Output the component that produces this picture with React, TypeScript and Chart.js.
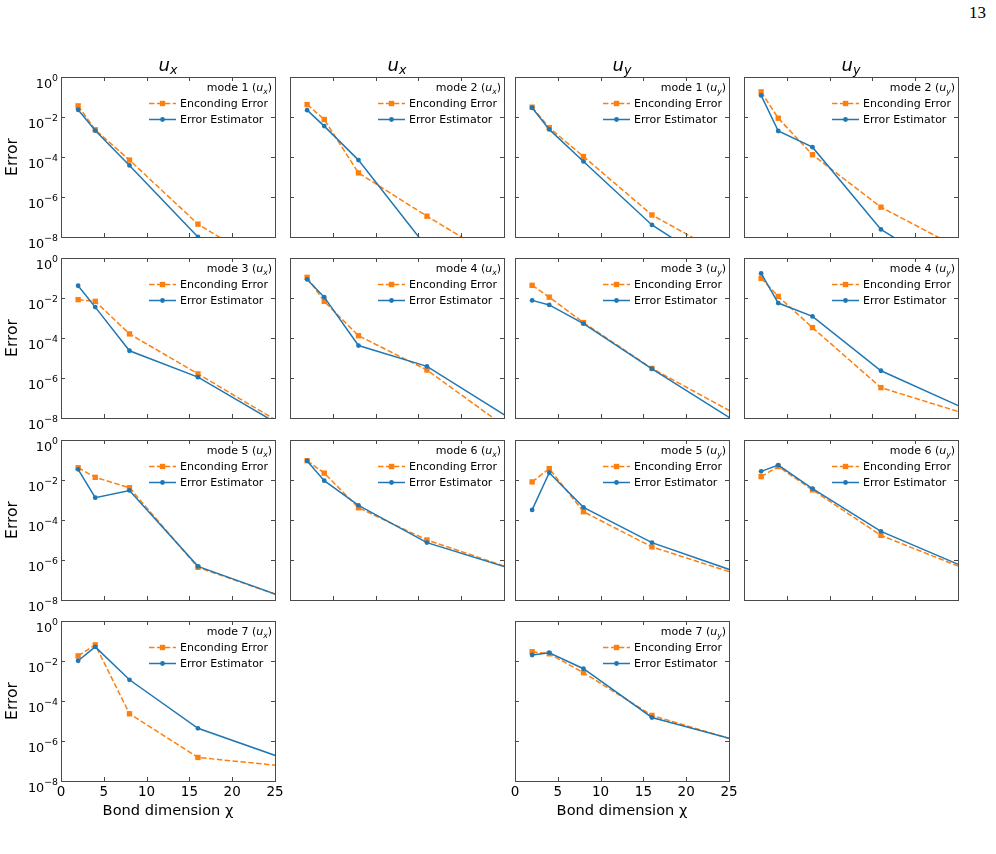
import React, { useEffect, useRef } from 'react';
import { Chart, registerables } from 'chart.js';

Chart.register(...registerables);
Chart.defaults.font.family = "'DejaVu Sans', sans-serif";
Chart.defaults.color = '#000';

// Bond dimensions used in the sweep and axis ticks
const bondDimensions = [2, 4, 8, 16, 32];
const xTickValues = [0, 5, 10, 15, 20, 25];
const yTickValues = [1, 1e-2, 1e-4, 1e-6, 1e-8];

// u_x modes: encoding error and estimator
const uxMode1Encoding = [0.036, 2.3e-3, 7e-5, 4.4e-8, 3e-12];
const uxMode1Estimator = [0.023, 2.1e-3, 3.8e-5, 1e-8, 1e-13];
const uxMode2Encoding = [0.042, 7.5e-3, 1.6e-5, 1.1e-7, 8e-12];
const uxMode2Estimator = [0.022, 3.5e-3, 7e-5, 3e-9, 1e-14];
const uxMode3Encoding = [8.3e-3, 6.8e-3, 1.6e-4, 1.6e-6, 1.4e-10];
const uxMode3Estimator = [0.041, 3.5e-3, 2.3e-5, 1.1e-6, 1.1e-10];
const uxMode4Encoding = [0.108, 6.8e-3, 1.3e-4, 2.5e-6, 2.8e-11];
const uxMode4Estimator = [0.085, 0.011, 4.2e-5, 3.8e-6, 2e-10];
const uxMode5Encoding = [0.041, 0.0136, 4.1e-3, 4.3e-7, 1.8e-9];
const uxMode5Estimator = [0.034, 1.3e-3, 3e-3, 4.8e-7, 1.7e-9];
const uxMode6Encoding = [0.093, 0.022, 4.1e-4, 1e-5, 4.9e-8];
const uxMode6Estimator = [0.09, 9.3e-3, 5.4e-4, 7.4e-6, 5.5e-8];
const uxMode7Encoding = [0.018, 0.064, 2.3e-5, 1.5e-7, 3.1e-8];
const uxMode7Estimator = [0.0103, 0.051, 1.15e-3, 4.3e-6, 1.7e-8];

// u_y modes: encoding error and estimator
const uyMode1Encoding = [0.031, 2.9e-3, 1.05e-4, 1.26e-7, 2e-11];
const uyMode1Estimator = [0.029, 2.4e-3, 6e-5, 4e-8, 1.6e-12];
const uyMode2Encoding = [0.18, 8.7e-3, 1.3e-4, 3.1e-7, 8e-11];
const uyMode2Estimator = [0.12, 2e-3, 3.1e-4, 2.4e-8, 1.3e-12];
const uyMode3Encoding = [0.043, 0.011, 5.9e-4, 3e-6, 5.6e-10];
const uyMode3Estimator = [7.6e-3, 4.5e-3, 5.2e-4, 2.9e-6, 1.4e-10];
const uyMode4Encoding = [0.096, 0.012, 3.3e-4, 3.3e-7, 2.5e-9];
const uyMode4Estimator = [0.17, 5.6e-3, 1.2e-3, 2.3e-6, 1.9e-9];
const uyMode5Encoding = [8e-3, 0.037, 2.6e-4, 4.5e-6, 2.9e-8];
const uyMode5Estimator = [3.2e-4, 0.023, 4.3e-4, 7.4e-6, 3.1e-8];
const uyMode6Encoding = [0.0147, 0.047, 3.2e-3, 1.7e-5, 3.2e-8];
const uyMode6Estimator = [0.027, 0.056, 3.7e-3, 2.7e-5, 3.2e-8];
const uyMode7Encoding = [0.029, 0.023, 2.6e-3, 1.9e-5, 1.7e-7];
const uyMode7Estimator = [0.02, 0.026, 4.1e-3, 1.5e-5, 2.1e-7];

const ENCODING_LABEL = 'Enconding Error';
const ESTIMATOR_LABEL = 'Error Estimator';
const ORANGE = '#ff7f0e';
const BLUE = '#1f77b4';
const FRAME = '#4a4a4a';
const FONT = "'DejaVu Sans', sans-serif";

// Grid geometry (page pixels)
const COL_LEFT = [61, 290, 515, 744];
const ROW_TOP = [77, 258, 440, 621];
const PLOT_W = 214;
const PLOT_H = 160;

type Panel = {
  mode: number;
  comp: 'x' | 'y';
  row: number;
  col: number;
  encoding: number[];
  estimator: number[];
};

const panels: Panel[] = [
  { mode: 1, comp: 'x', row: 0, col: 0, encoding: uxMode1Encoding, estimator: uxMode1Estimator },
  { mode: 2, comp: 'x', row: 0, col: 1, encoding: uxMode2Encoding, estimator: uxMode2Estimator },
  { mode: 1, comp: 'y', row: 0, col: 2, encoding: uyMode1Encoding, estimator: uyMode1Estimator },
  { mode: 2, comp: 'y', row: 0, col: 3, encoding: uyMode2Encoding, estimator: uyMode2Estimator },
  { mode: 3, comp: 'x', row: 1, col: 0, encoding: uxMode3Encoding, estimator: uxMode3Estimator },
  { mode: 4, comp: 'x', row: 1, col: 1, encoding: uxMode4Encoding, estimator: uxMode4Estimator },
  { mode: 3, comp: 'y', row: 1, col: 2, encoding: uyMode3Encoding, estimator: uyMode3Estimator },
  { mode: 4, comp: 'y', row: 1, col: 3, encoding: uyMode4Encoding, estimator: uyMode4Estimator },
  { mode: 5, comp: 'x', row: 2, col: 0, encoding: uxMode5Encoding, estimator: uxMode5Estimator },
  { mode: 6, comp: 'x', row: 2, col: 1, encoding: uxMode6Encoding, estimator: uxMode6Estimator },
  { mode: 5, comp: 'y', row: 2, col: 2, encoding: uyMode5Encoding, estimator: uyMode5Estimator },
  { mode: 6, comp: 'y', row: 2, col: 3, encoding: uyMode6Encoding, estimator: uyMode6Estimator },
  { mode: 7, comp: 'x', row: 3, col: 0, encoding: uxMode7Encoding, estimator: uxMode7Estimator },
  { mode: 7, comp: 'y', row: 3, col: 2, encoding: uyMode7Encoding, estimator: uyMode7Estimator },
];

const columnComponent = ['x', 'x', 'y', 'y'];

// Box frame with inward tick marks on all four sides
const framePlugin = {
  id: 'frame',
  afterDatasetsDraw(chart: any) {
    const { ctx, chartArea: a, scales } = chart;
    const tl = 4;
    ctx.save();
    ctx.strokeStyle = FRAME;
    ctx.lineWidth = 1;
    ctx.setLineDash([]);
    ctx.strokeRect(a.left + 0.5, a.top + 0.5, a.right - a.left, a.bottom - a.top);
    ctx.beginPath();
    for (const t of scales.x.ticks) {
      const px = Math.round(scales.x.getPixelForValue(t.value)) + 0.5;
      ctx.moveTo(px, a.bottom);
      ctx.lineTo(px, a.bottom - tl);
      ctx.moveTo(px, a.top);
      ctx.lineTo(px, a.top + tl);
    }
    for (const t of scales.y.ticks) {
      const py = Math.round(scales.y.getPixelForValue(t.value)) + 0.5;
      ctx.moveTo(a.left, py);
      ctx.lineTo(a.left + tl, py);
      ctx.moveTo(a.right, py);
      ctx.lineTo(a.right - tl, py);
    }
    ctx.stroke();
    ctx.restore();
  },
};

// Power-of-ten tick labels (10 with a raised exponent) on the log axis
const powerTicksPlugin = {
  id: 'powerTicks',
  afterDraw(chart: any, _args: any, opts: any) {
    if (!opts || !opts.show) return;
    const { ctx, chartArea: a, scales } = chart;
    const base = `12.8px ${FONT}`;
    const exp = `9.4px ${FONT}`;
    ctx.save();
    ctx.fillStyle = '#000';
    ctx.textBaseline = 'alphabetic';
    for (const t of scales.y.ticks) {
      const py = scales.y.getPixelForValue(t.value);
      const e = String(Math.round(Math.log10(t.value))).replace('-', '\u2212');
      ctx.font = exp;
      const we = ctx.measureText(e).width;
      ctx.font = base;
      const wb = ctx.measureText('10').width;
      const right = a.left - 3;
      ctx.fillText('10', right - we - wb, py + 10.6);
      ctx.font = exp;
      ctx.fillText(e, right - we, py + 3.6);
    }
    ctx.restore();
  },
};

// Legend in the upper right of each panel: "mode N (u_c)" title plus two entries
const modeLegendPlugin = {
  id: 'modeLegend',
  afterDraw(chart: any, _args: any, opts: any) {
    const { ctx, chartArea: a } = chart;
    const size = 11;
    const regular = `${size}px ${FONT}`;
    const italic = `italic ${size}px ${FONT}`;
    const sub = `italic ${size * 0.7}px ${FONT}`;
    const parts = [
      { t: `mode ${opts.mode} (`, f: regular, dy: 0 },
      { t: 'u', f: italic, dy: 0 },
      { t: opts.comp, f: sub, dy: 2.6 },
      { t: ')', f: regular, dy: 0 },
    ];
    ctx.save();
    ctx.fillStyle = '#000';
    ctx.textBaseline = 'alphabetic';
    let total = 0;
    for (const p of parts) {
      ctx.font = p.f;
      total += ctx.measureText(p.t).width;
    }
    let x = a.right - 3 - total;
    const base = a.top + 14.4;
    for (const p of parts) {
      ctx.font = p.f;
      ctx.fillText(p.t, x, base + p.dy);
      x += ctx.measureText(p.t).width;
    }

    chart.data.datasets.forEach((ds: any, i: number) => {
      const y = a.top + 26.5 + i * 16;
      const x0 = a.right - 126;
      const x1 = a.right - 99;
      ctx.strokeStyle = ds.borderColor;
      ctx.lineWidth = ds.borderWidth;
      ctx.setLineDash(ds.borderDash || []);
      ctx.beginPath();
      ctx.moveTo(x0, y);
      ctx.lineTo(x1, y);
      ctx.stroke();
      ctx.setLineDash([]);
      ctx.fillStyle = ds.backgroundColor;
      const cx = (x0 + x1) / 2;
      if (ds.pointStyle === 'rect') {
        const s = ds.pointRadius * Math.SQRT2;
        ctx.fillRect(cx - s / 2, y - s / 2, s, s);
      } else {
        ctx.beginPath();
        ctx.arc(cx, y, ds.pointRadius, 0, Math.PI * 2);
        ctx.fill();
      }
      ctx.fillStyle = '#000';
      ctx.font = regular;
      ctx.textBaseline = 'middle';
      ctx.fillText(ds.label, a.right - 95, y + 0.5);
    });
    ctx.restore();
  },
};

// Column heading (u_x / u_y) above the top row
const columnTitlePlugin = {
  id: 'columnTitle',
  afterDraw(chart: any, _args: any, opts: any) {
    if (!opts || !opts.comp) return;
    const { ctx, chartArea: a } = chart;
    const big = `italic 18px ${FONT}`;
    const small = `italic 12.6px ${FONT}`;
    ctx.save();
    ctx.fillStyle = '#000';
    ctx.textBaseline = 'alphabetic';
    ctx.font = big;
    const wu = ctx.measureText('u').width;
    ctx.font = small;
    const wc = ctx.measureText(opts.comp).width;
    const x0 = (a.left + a.right) / 2 - (wu + wc) / 2;
    const base = a.top - 6.5;
    ctx.font = big;
    ctx.fillText('u', x0, base);
    ctx.font = small;
    ctx.fillText(opts.comp, x0 + wu, base + 3.5);
    ctx.restore();
  },
};

function ErrorPanel({ panel }: { panel: Panel }) {
  const ref = useRef<HTMLCanvasElement>(null);
  const showY = panel.col === 0;
  const showX = panel.row === 3;
  const ml = showY ? COL_LEFT[0] : 12;
  const mt = panel.row === 0 ? 40 : 12;
  const mr = 12;
  const mb = showX ? 52 : 12;
  const width = ml + PLOT_W + mr;
  const height = mt + PLOT_H + mb;
  const left = COL_LEFT[panel.col] - ml;
  const top = ROW_TOP[panel.row] - mt;

  useEffect(() => {
    if (!ref.current) return;
    const chart = new Chart(ref.current, {
      type: 'line',
      data: {
        datasets: [
          {
            label: ENCODING_LABEL,
            data: bondDimensions.map((x, i) => ({ x, y: panel.encoding[i] })),
            borderColor: ORANGE,
            backgroundColor: ORANGE,
            borderWidth: 1.5,
            borderDash: [5.5, 2.4],
            pointStyle: 'rect',
            pointRadius: 3.8,
            pointBorderWidth: 0,
            tension: 0,
            order: 1,
          },
          {
            label: ESTIMATOR_LABEL,
            data: bondDimensions.map((x, i) => ({ x, y: panel.estimator[i] })),
            borderColor: BLUE,
            backgroundColor: BLUE,
            borderWidth: 1.5,
            pointStyle: 'circle',
            pointRadius: 2.4,
            pointBorderWidth: 0,
            tension: 0,
            order: 0,
          },
        ],
      },
      options: {
        responsive: false,
        animation: false,
        devicePixelRatio: 1,
        events: [],
        layout: { padding: { left: 0, top: mt, right: mr, bottom: 0 } },
        plugins: {
          legend: { display: false },
          tooltip: { enabled: false },
          modeLegend: { mode: panel.mode, comp: panel.comp },
          columnTitle: { comp: panel.row === 0 ? columnComponent[panel.col] : null },
          powerTicks: { show: showY },
        } as any,
        scales: {
          x: {
            type: 'linear',
            min: 0,
            max: 25,
            afterBuildTicks: (s: any) => {
              s.ticks = xTickValues.map((v) => ({ value: v }));
            },
            afterFit: (s: any) => {
              s.height = mb;
              s.paddingLeft = 0;
              s.paddingRight = 0;
            },
            grid: { display: false, drawTicks: false },
            border: { display: false },
            ticks: {
              display: showX,
              autoSkip: false,
              maxRotation: 0,
              padding: 3.5,
              color: '#000',
              font: { size: 13.5 },
            },
            title: {
              display: showX,
              text: 'Bond dimension χ',
              color: '#000',
              font: { size: 14.6 },
              padding: { top: 0, bottom: 13 },
            },
          },
          y: {
            type: 'logarithmic',
            min: 1e-8,
            max: 1,
            afterBuildTicks: (s: any) => {
              s.ticks = yTickValues.map((v) => ({ value: v }));
            },
            afterFit: (s: any) => {
              s.width = ml;
              s.paddingTop = 0;
              s.paddingBottom = 0;
            },
            grid: { display: false, drawTicks: false },
            border: { display: false },
            ticks: { display: false },
            title: {
              display: showY,
              text: 'Error',
              color: '#000',
              font: { size: 15.5 },
              padding: { top: 3.5, bottom: 0 },
            },
          },
        },
      },
      plugins: [framePlugin, powerTicksPlugin, modeLegendPlugin, columnTitlePlugin],
    } as any);
    return () => chart.destroy();
  }, []);

  return (
    <canvas
      ref={ref}
      width={width}
      height={height}
      style={{ position: 'absolute', left, top, width, height }}
    />
  );
}

export default function App() {
  return (
    <div
      style={{
        position: 'absolute',
        left: 0,
        top: 0,
        width: 996,
        height: 854,
        background: '#fff',
        overflow: 'hidden',
      }}
    >
      <div
        style={{
          position: 'absolute',
          right: 10,
          top: 3,
          font: "17px 'Liberation Serif', 'DejaVu Serif', serif",
          color: '#000',
        }}
      >
        13
      </div>
      {panels.map((p) => (
        <ErrorPanel key={`${p.comp}${p.mode}`} panel={p} />
      ))}
    </div>
  );
}
